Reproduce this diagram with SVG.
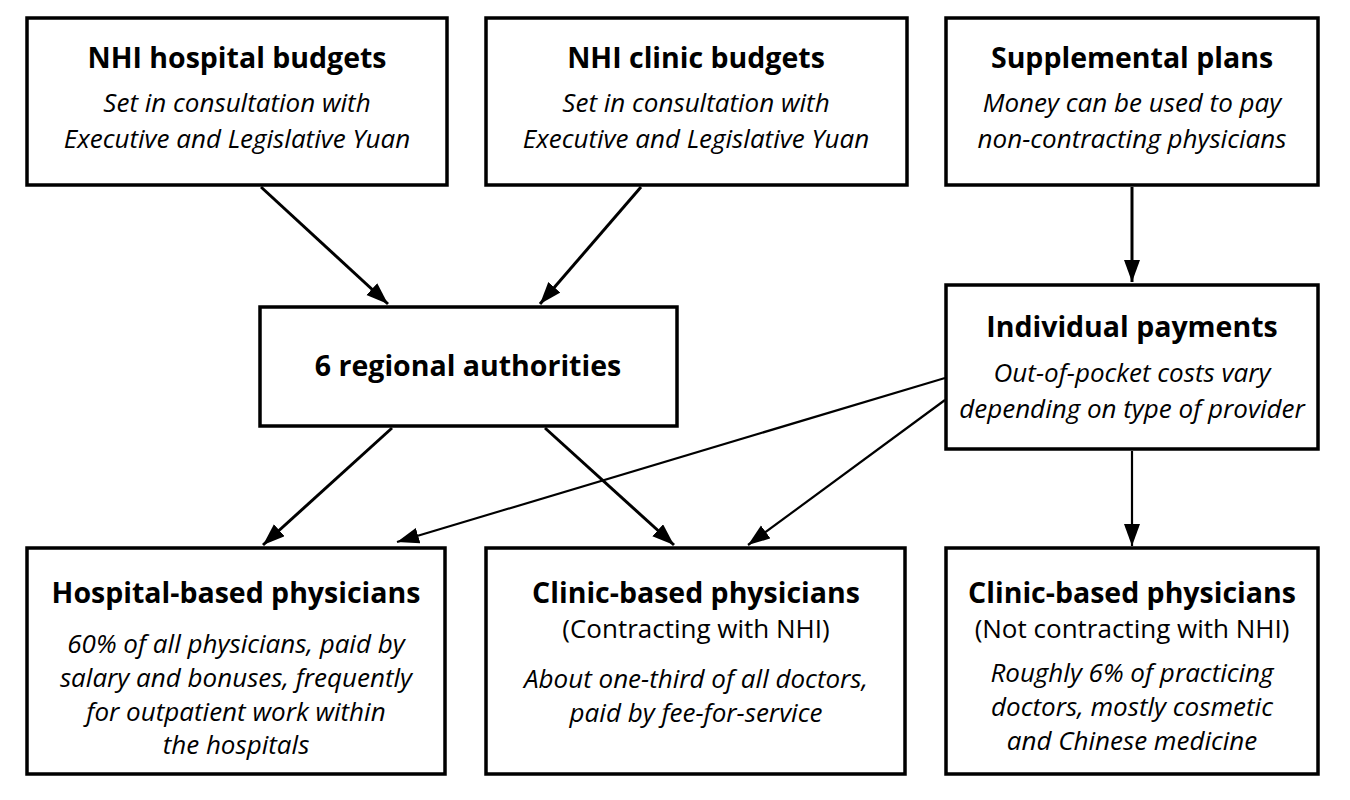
<svg xmlns="http://www.w3.org/2000/svg" width="1350" height="800" viewBox="0 0 1350 800">
<defs>
<style>
.box{fill:#fff;stroke:#000;stroke-width:3.5}
.t{font-family:"Open Sans","Liberation Sans",sans-serif;font-weight:700;font-size:28.5px;fill:#000;text-anchor:middle}
.i{font-family:"Open Sans","Liberation Sans",sans-serif;font-style:italic;font-size:26px;fill:#000;text-anchor:middle}
.p{font-family:"Open Sans","Liberation Sans",sans-serif;font-size:26px;fill:#000;text-anchor:middle}
.c{stroke:#000;stroke-width:3;fill:none}
.c2{stroke:#000;stroke-width:2.2;fill:none}
</style>
<marker id="ah" markerUnits="userSpaceOnUse" markerWidth="24" markerHeight="18" refX="22" refY="8" orient="auto">
<path d="M0,0 L22,8 L0,16 Z" fill="#000"/>
</marker>
</defs>
<rect width="1350" height="800" fill="#fff"/>
<g id="connectors">
<line class="c" x1="261" y1="187" x2="388" y2="304" marker-end="url(#ah)"/>
<line class="c" x1="641" y1="187" x2="540" y2="304" marker-end="url(#ah)"/>
<line class="c" x1="1132" y1="187" x2="1132" y2="282" marker-end="url(#ah)"/>
<line class="c" x1="392" y1="428" x2="263" y2="545" marker-end="url(#ah)"/>
<line class="c" x1="545" y1="428" x2="674" y2="545" marker-end="url(#ah)"/>
<line class="c2" x1="945" y1="378" x2="397" y2="542" marker-end="url(#ah)"/>
<line class="c2" x1="945" y1="400" x2="748" y2="545" marker-end="url(#ah)"/>
<line class="c2" x1="1132" y1="451" x2="1132" y2="546" marker-end="url(#ah)"/>
</g>
<g id="nhi-hospital">
<rect class="box" x="27" y="18" width="420" height="167"/>
<text class="t" x="237" y="68">NHI hospital budgets</text>
<text class="i" x="237" y="112">Set in consultation with</text>
<text class="i" x="237" y="148">Executive and Legislative Yuan</text>
</g>
<g id="nhi-clinic">
<rect class="box" x="486" y="18" width="421" height="167"/>
<text class="t" x="696" y="68">NHI clinic budgets</text>
<text class="i" x="696" y="112">Set in consultation with</text>
<text class="i" x="696" y="148">Executive and Legislative Yuan</text>
</g>
<g id="supplemental">
<rect class="box" x="946" y="18" width="372" height="167"/>
<text class="t" x="1132" y="68">Supplemental plans</text>
<text class="i" x="1132" y="112">Money can be used to pay</text>
<text class="i" x="1132" y="148">non-contracting physicians</text>
</g>
<g id="regional">
<rect class="box" x="260" y="307" width="417" height="119"/>
<text class="t" x="468" y="376">6 regional authorities</text>
</g>
<g id="individual">
<rect class="box" x="946" y="285" width="372" height="164"/>
<text class="t" x="1132" y="337">Individual payments</text>
<text class="i" x="1132" y="382">Out-of-pocket costs vary</text>
<text class="i" x="1132" y="418">depending on type of provider</text>
</g>
<g id="hospital-physicians">
<rect class="box" x="27" y="548" width="418" height="226"/>
<text class="t" x="236" y="603">Hospital-based physicians</text>
<text class="i" x="236" y="653">60% of all physicians, paid by</text>
<text class="i" x="236" y="687">salary and bonuses, frequently</text>
<text class="i" x="236" y="721">for outpatient work within</text>
<text class="i" x="236" y="754">the hospitals</text>
</g>
<g id="clinic-contracting">
<rect class="box" x="486" y="548" width="419" height="226"/>
<text class="t" x="696" y="603">Clinic-based physicians</text>
<text class="p" x="696" y="638">(Contracting with NHI)</text>
<text class="i" x="696" y="688">About one-third of all doctors,</text>
<text class="i" x="696" y="722">paid by fee-for-service</text>
</g>
<g id="clinic-noncontracting">
<rect class="box" x="946" y="548" width="372" height="226"/>
<text class="t" x="1132" y="603">Clinic-based physicians</text>
<text class="p" x="1132" y="638">(Not contracting with NHI)</text>
<text class="i" x="1132" y="682">Roughly 6% of practicing</text>
<text class="i" x="1132" y="716">doctors, mostly cosmetic</text>
<text class="i" x="1132" y="750">and Chinese medicine</text>
</g>
</svg>
